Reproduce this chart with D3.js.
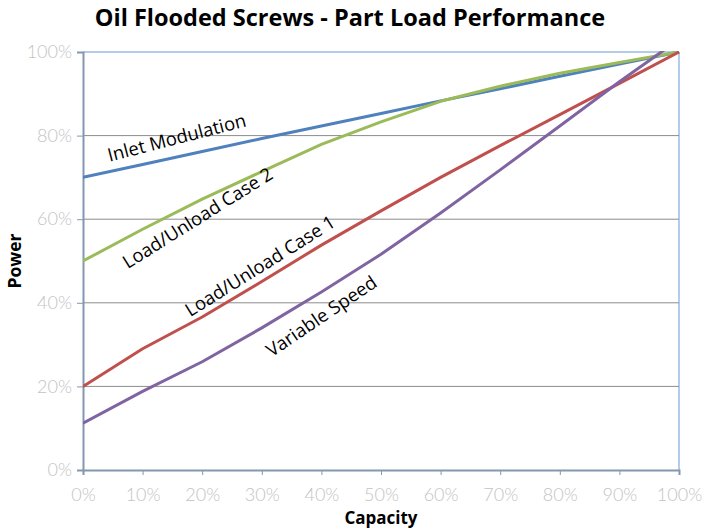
<!DOCTYPE html>
<html>
<head>
<meta charset="utf-8">
<script src="https://cdn.jsdelivr.net/npm/d3@7"></script>
<style>
  html, body { margin: 0; padding: 0; background: #fff; }
  svg { display: block; }
</style>
</head>
<body>
<svg id="chart" width="707" height="528"></svg>
<script>
// Capacity (% of full load) at which each curve is sampled
const capacity = [0, 10, 20, 30, 40, 50, 60, 70, 80, 90, 100];

// Power (% of full-load power) for each control method
const inletModulation = [70, 73.1, 76.2, 79.3, 82.3, 85.3, 88.3, 91.2, 94.2, 97.1, 100];
const loadUnloadCase2 = [50, 57.6, 64.8, 71.4, 77.9, 83.3, 88.2, 91.8, 94.9, 97.5, 100];
const loadUnloadCase1 = [20, 29, 36.6, 45.1, 53.8, 62, 70, 77.6, 85, 92.5, 100];
const variableSpeed   = [11.2, 18.8, 25.9, 34, 42.6, 51.6, 61.5, 71.8, 82.3, 92.9, 103];

const xTicks = [0, 10, 20, 30, 40, 50, 60, 70, 80, 90, 100];
const yTicks = [0, 20, 40, 60, 80, 100];

const series = [
  { name: "Inlet Modulation",   values: inletModulation, color: "#4f81bd" },
  { name: "Load/Unload Case 2", values: loadUnloadCase2, color: "#9bbb59" },
  { name: "Load/Unload Case 1", values: loadUnloadCase1, color: "#c0504d" },
  { name: "Variable Speed",     values: variableSpeed,   color: "#8064a2" }
];

// In-plot labels: anchored at a capacity/power point, rotated along the curve
const curveLabels = [
  { text: "Inlet Modulation",   cap: 16.0, pow: 78.0, angle: -14.5 },
  { text: "Load/Unload Case 2", cap: 19.8, pow: 59.0, angle: -32 },
  { text: "Load/Unload Case 1", cap: 30.3, pow: 47.5, angle: -32 },
  { text: "Variable Speed",     cap: 40.6, pow: 35.5, angle: -34 }
];

const svg = d3.select("#chart");
const margin = { left: 83, right: 28, top: 52, bottom: 58 };
const W = 707, H = 528;

const x = d3.scaleLinear().domain([0, 100]).range([margin.left, W - margin.right]);
const y = d3.scaleLinear().domain([0, 100]).range([H - margin.bottom, margin.top]);

const pct = d => d + "%";

// Title
svg.append("text")
  .attr("x", 350).attr("y", 26)
  .attr("text-anchor", "middle")
  .style("font-family", "'Open Sans', 'Noto Sans', sans-serif")
  .style("font-weight", "bold")
  .style("font-size", "23.5px")
  .attr("fill", "#000")
  .text("Oil Flooded Screws - Part Load Performance");

// Horizontal gridlines
svg.append("g")
  .selectAll("line")
  .data(yTicks.filter(t => t > 0 && t < 100))
  .join("line")
  .attr("x1", x(0)).attr("x2", x(100))
  .attr("y1", d => y(d)).attr("y2", d => y(d))
  .attr("stroke", "#8c8c8c")
  .attr("stroke-width", 1);

// Plot area frame (top and right edges)
svg.append("path")
  .attr("d", `M${x(0)},${y(100)}H${x(100)}V${y(0)}`)
  .attr("fill", "none")
  .attr("stroke", "#6a9ad3")
  .attr("stroke-width", 1);

// Axes
const axisColor = "#8497b0";
const tickFont = "Lato, 'Open Sans', sans-serif";

const yAxis = svg.append("g")
  .attr("transform", `translate(${x(0)},0)`)
  .call(d3.axisLeft(y).tickValues(yTicks).tickFormat(pct).tickSize(6).tickPadding(5));
yAxis.select(".domain").attr("stroke", axisColor).attr("stroke-width", 2);
yAxis.selectAll(".tick line").attr("stroke", axisColor).attr("stroke-width", 1);
yAxis.selectAll(".tick text")
  .attr("fill", "#c3c3c3")
  .style("font-family", tickFont)
  .style("font-weight", "300")
  .style("font-size", "18px");

const xAxis = svg.append("g")
  .attr("transform", `translate(0,${y(0)})`)
  .call(d3.axisBottom(x).tickValues(xTicks).tickFormat(pct).tickSize(5).tickPadding(13));
xAxis.select(".domain").attr("stroke", axisColor).attr("stroke-width", 2);
xAxis.selectAll(".tick line").attr("stroke", axisColor).attr("stroke-width", 1);
xAxis.selectAll(".tick text")
  .attr("fill", "#c3c3c3")
  .style("font-family", tickFont)
  .style("font-weight", "300")
  .style("font-size", "18px");

// Axis titles
svg.append("text")
  .attr("x", 381).attr("y", 524)
  .attr("text-anchor", "middle")
  .style("font-family", "'Open Sans', sans-serif")
  .style("font-weight", "bold")
  .style("font-size", "17px")
  .text("Capacity");

svg.append("text")
  .attr("transform", `translate(21,${(y(0) + y(100)) / 2}) rotate(-90)`)
  .attr("text-anchor", "middle")
  .style("font-family", "'Open Sans', sans-serif")
  .style("font-weight", "bold")
  .style("font-size", "17.5px")
  .text("Power");

// Clip curves to the plot area
svg.append("clipPath").attr("id", "plot-clip")
  .append("rect")
  .attr("x", x(0)).attr("y", y(100) - 1)
  .attr("width", x(100) - x(0) + 2).attr("height", y(0) - y(100) + 1);

const line = d3.line()
  .x((d, i) => x(capacity[i]))
  .y(d => y(d));

svg.append("g")
  .attr("clip-path", "url(#plot-clip)")
  .selectAll("path")
  .data(series)
  .join("path")
  .attr("d", d => line(d.values))
  .attr("fill", "none")
  .attr("stroke", d => d.color)
  .attr("stroke-width", 3)
  .attr("stroke-linejoin", "round");

// Curve labels
svg.append("g")
  .selectAll("text")
  .data(curveLabels)
  .join("text")
  .attr("transform", d => `translate(${x(d.cap)},${y(d.pow)}) rotate(${d.angle})`)
  .attr("text-anchor", "middle")
  .style("font-family", "'Open Sans', sans-serif")
  .style("font-size", "18.5px")
  .attr("fill", "#000")
  .text(d => d.text);
</script>
</body>
</html>
